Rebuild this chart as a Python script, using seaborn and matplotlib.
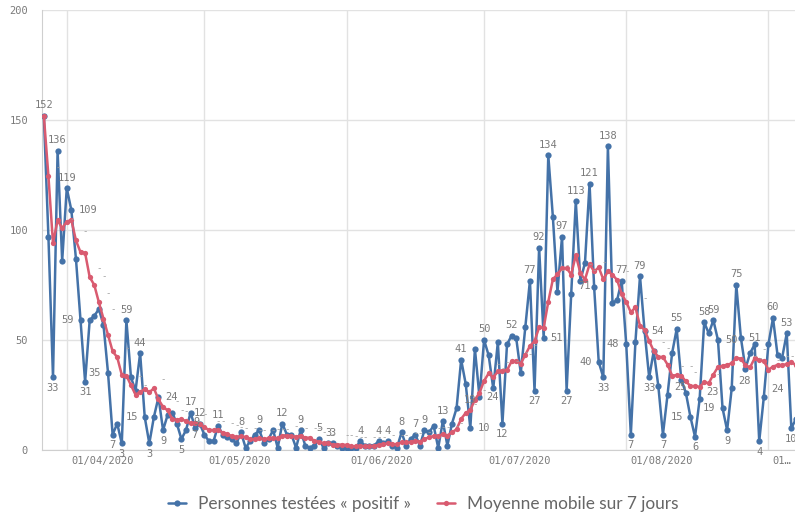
import numpy as np
import pandas as pd
import matplotlib
matplotlib.use('Agg')
import matplotlib.pyplot as plt
import matplotlib.dates as mdates
import seaborn as sns

# données quotidiennes à partir du 27/03/2020
debut = '2020-03-27'
positifs = [152, 97, 33, 136, 86, 119, 109, 87, 59, 31,
            59, 61, 64, 57, 35, 7, 12, 3, 59, 33,
            27, 44, 15, 3, 15, 24, 9, 16, 17, 12,
            5, 9, 17, 10, 12, 7, 4, 4, 11, 7,
            6, 5, 3, 8, 1, 4, 7, 9, 3, 5,
            9, 1, 12, 7, 7, 1, 9, 2, 1, 2,
            5, 1, 3, 3, 2, 1, 1, 1, 1, 4,
            2, 2, 2, 4, 3, 4, 2, 1, 8, 2,
            5, 7, 2, 9, 8, 11, 1, 13, 2, 12,
            19, 41, 30, 10, 46, 24, 50, 43, 28, 49,
            12, 48, 52, 51, 35, 56, 77, 27, 92, 51,
            134, 106, 72, 97, 27, 71, 113, 77, 85, 121,
            74, 40, 33, 138, 67, 68, 77, 48, 7, 49,
            79, 54, 33, 45, 29, 7, 25, 44, 55, 32,
            26, 15, 6, 23, 58, 53, 59, 50, 19, 9,
            28, 75, 51, 37, 44, 48, 4, 24, 48, 60,
            43, 42, 53, 10, 14]

# jours dont la valeur est affichée
jours_etiquetes = [0, 2, 3, 5, 6, 8, 9, 14, 15, 17, 18, 21, 22, 23, 25, 26,
                   30, 31, 32, 34, 35, 38, 43, 47, 52, 56, 60, 62, 63, 69,
                   73, 75, 78, 81, 83, 87, 90, 91, 93, 95, 96, 100, 102, 106,
                   107, 108, 109, 110, 113, 114, 115, 116, 119, 121, 122, 123,
                   126, 127, 128, 130, 131, 132, 135, 136, 138, 141, 142, 143,
                   144, 146, 147, 148, 149, 150, 151, 152, 156, 157, 159, 162, 163]
# étiquettes posées à droite du point
a_droite = [6, 25, 93, 95, 109, 131, 147, 152]

dates_ticks = ['2020-04-01', '2020-05-01', '2020-06-01', '2020-07-01', '2020-08-01', '2020-09-01']
labels_ticks = ['01/04/2020', '01/05/2020', '01/06/2020', '01/07/2020', '01/08/2020', '01…']
y_ticks = [0, 50, 100, 150, 200]

nom_positifs = 'Personnes testées « positif »'
nom_moyenne = 'Moyenne mobile sur 7 jours'

df = pd.DataFrame({'date': pd.date_range(debut, periods=len(positifs)),
                   'positifs': positifs})
df['moyenne'] = df['positifs'].rolling(7, min_periods=1).mean()

sns.set_style('white')
plt.rcParams['font.family'] = ['DejaVu Sans Mono']

bleu = '#4472a8'
rouge = '#d95b70'
gris_txt = '#7a7a7a'
gris_grille = '#e2e2e2'

fig = plt.figure(figsize=(7.95, 5.22), dpi=100)
ax = fig.add_axes([42 / 795, 72 / 522, 1 - 42 / 795, (522 - 10 - 72) / 522])

sns.lineplot(data=df, x='date', y='positifs', ax=ax, color=bleu, lw=1.8,
             marker='o', markersize=4.5, markeredgewidth=0, label=nom_positifs, zorder=3)
sns.lineplot(data=df, x='date', y='moyenne', ax=ax, color=rouge, lw=1.8,
             marker='o', markersize=3.8, markeredgewidth=0, label=nom_moyenne, zorder=4)

# étiquettes des valeurs
for i in jours_etiquetes:
    v = positifs[i]
    prev = positifs[i - 1] if i > 0 else -1
    nxt = positifs[i + 1] if i < len(positifs) - 1 else -1
    if i in a_droite:
        off, ha, va = (5, 0), 'left', 'center'
    elif v >= prev and v >= nxt:
        off, ha, va = (0, 4), 'center', 'bottom'
    elif v <= prev and v <= nxt:
        off, ha, va = (0, -4), 'center', 'top'
    elif prev > v:
        off, ha, va = (-5, 0), 'right', 'center'
    else:
        off, ha, va = (5, 2), 'left', 'bottom'
    ax.annotate(str(v), (df['date'][i], v), xytext=off, textcoords='offset points',
                ha=ha, va=va, fontsize=7.5, color=gris_txt, zorder=5)

# petits tirets de la moyenne mobile
for i in range(len(positifs)):
    if i in jours_etiquetes:
        continue
    ax.annotate('-', (df['date'][i], df['moyenne'][i]), xytext=(5, 3),
                textcoords='offset points', ha='left', va='bottom',
                fontsize=6.5, color='#a0a0a0', zorder=5)

x0 = mdates.date2num(pd.Timestamp(debut))
ax.set_xlim(x0 - 0.4, x0 + 163.8)
ax.set_ylim(0, 200)

ax.set_yticks(y_ticks)
ax.set_yticklabels([str(t) for t in y_ticks])
ax.tick_params(axis='y', length=8, color=gris_grille, labelsize=7.5,
               labelcolor=gris_txt, pad=2)

ticks = [mdates.date2num(pd.Timestamp(d)) for d in dates_ticks]
ax.set_xticks(ticks)
ax.set_xticklabels([''] * len(ticks))
ax.tick_params(axis='x', length=18, color=gris_grille)
for t, lab in zip(ticks, labels_ticks):
    ax.annotate(lab, (t, 0), xycoords=('data', 'axes fraction'), xytext=(3, -4),
                textcoords='offset points', ha='left', va='top', fontsize=7.5,
                color=gris_txt, annotation_clip=False)

ax.grid(True, color=gris_grille, lw=1)
ax.set_axisbelow(True)
for s in ['top', 'right']:
    ax.spines[s].set_visible(False)
ax.spines['left'].set_color('#cfcfcf')
ax.spines['bottom'].set_color('#cfcfcf')
ax.set_xlabel('')
ax.set_ylabel('')

ax.get_legend().remove()
h, l = ax.get_legend_handles_labels()
fig.legend(h, l, loc='lower center', bbox_to_anchor=(0.532, -0.01), ncol=2,
           frameon=False, handlelength=1.05, handletextpad=0.7, columnspacing=1.5,
           prop={'family': 'Lato', 'size': 12.4}, labelcolor='#666666')

fig.savefig('out.png', dpi=100)
